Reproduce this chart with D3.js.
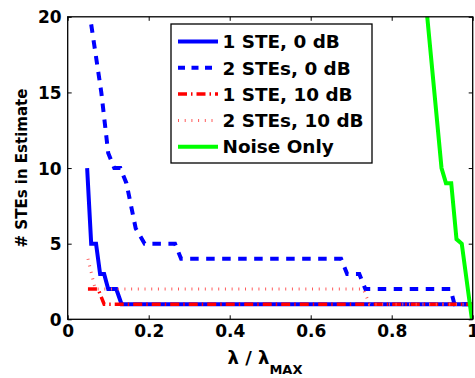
<!DOCTYPE html>
<html>
<head>
<meta charset="utf-8">
<script src="https://cdn.jsdelivr.net/npm/d3@7"></script>
<style>
  html, body { margin: 0; padding: 0; background: #fff; }
  svg { display: block; }
  text { font-family: "DejaVu Sans", Arial, sans-serif; font-weight: bold; }
</style>
</head>
<body>
<svg id="chart" width="475" height="378"></svg>
<script>
// Number of STEs kept in the estimate as the regularisation ratio λ/λmax grows
const xTicks = [0, 0.2, 0.4, 0.6, 0.8, 1];
const yTicks = [0, 5, 10, 15, 20];
const seriesLabels = ["1 STE, 0 dB", "2 STEs, 0 dB", "1 STE, 10 dB", "2 STEs, 10 dB", "Noise Only"];

const ste1_0dB_lambda = [0.048, 0.058, 0.070, 0.080, 0.090, 0.100, 0.120, 0.133, 0.996, 1.000];
const ste1_0dB_count  = [10, 5, 5, 3, 3, 2, 2, 1, 1, 0];

const ste2_0dB_lambda = [0.058, 0.083, 0.100, 0.115, 0.130, 0.145, 0.168, 0.190, 0.265, 0.280, 0.675, 0.690, 0.720, 0.735, 0.945, 0.955, 0.996, 1.000];
const ste2_0dB_count  = [19.5, 15, 11, 10, 10, 9, 6, 5, 5, 4, 4, 3, 3, 2, 2, 1, 1, 0];

const ste1_10dB_lambda = [0.050, 0.075, 0.090, 0.996, 1.000];
const ste1_10dB_count  = [2, 2, 1, 1, 0];

const ste2_10dB_lambda = [0.050, 0.068, 0.730, 0.745, 0.996, 1.000];
const ste2_10dB_count  = [4, 2, 2, 1, 1, 0];

const noise_lambda = [0.886, 0.923, 0.934, 0.947, 0.960, 0.973, 0.998];
const noise_count  = [20.5, 10, 9, 9, 5.3, 5, 0];

const svg = d3.select("#chart");
const plot = { left: 67.7, right: 472.7, top: 16.8, bottom: 319.3 };

const x = d3.scaleLinear().domain([0, 1]).range([plot.left, plot.right]);
const y = d3.scaleLinear().domain([0, 20]).range([plot.bottom, plot.top]);

svg.append("defs").append("clipPath").attr("id", "plotClip")
  .append("rect")
  .attr("x", plot.left).attr("y", plot.top)
  .attr("width", plot.right - plot.left).attr("height", plot.bottom - plot.top);

const styles = [
  { color: "#0000ff", width: 4,   dash: null },
  { color: "#0000ff", width: 4,   dash: "8.5,7.5" },
  { color: "#ff0000", width: 3.5, dash: "9,4,1.5,4" },
  { color: "#ff5a5a", width: 3,   dash: "1,5.7" },
  { color: "#00ff00", width: 4,   dash: null }
];

const series = [
  d3.zip(ste1_0dB_lambda, ste1_0dB_count),
  d3.zip(ste2_0dB_lambda, ste2_0dB_count),
  d3.zip(ste1_10dB_lambda, ste1_10dB_count),
  d3.zip(ste2_10dB_lambda, ste2_10dB_count),
  d3.zip(noise_lambda, noise_count)
];

const line = d3.line().x(d => x(d[0])).y(d => y(d[1]));

// axes with inward ticks on all four sides
const tickLen = 4;
const gx = svg.append("g").attr("transform", `translate(0,${plot.bottom})`)
  .call(d3.axisBottom(x).tickValues(xTicks).tickSizeInner(-tickLen).tickSizeOuter(0)
    .tickPadding(6).tickFormat(d => d === 0 || d === 1 ? d3.format("d")(d) : d3.format(".1f")(d)));
const gxTop = svg.append("g").attr("transform", `translate(0,${plot.top})`)
  .call(d3.axisTop(x).tickValues(xTicks).tickSizeInner(-tickLen).tickSizeOuter(0).tickFormat(""));
const gy = svg.append("g").attr("transform", `translate(${plot.left},0)`)
  .call(d3.axisLeft(y).tickValues(yTicks).tickSizeInner(-tickLen).tickSizeOuter(0).tickPadding(6));
const gyRight = svg.append("g").attr("transform", `translate(${plot.right},0)`)
  .call(d3.axisRight(y).tickValues(yTicks).tickSizeInner(-tickLen).tickSizeOuter(0).tickFormat(""));

[gx, gxTop, gy, gyRight].forEach(g => {
  g.select(".domain").remove();
  g.selectAll(".tick line").attr("stroke", "#000").attr("stroke-width", 1);
  g.selectAll(".tick text").attr("fill", "#000").attr("font-size", 17)
    .attr("font-family", "DejaVu Sans, Arial, sans-serif").attr("font-weight", "bold");
});
gy.selectAll(".tick text").attr("dy", "0.36em");

// series
const lines = svg.append("g").attr("clip-path", "url(#plotClip)");
series.forEach((pts, i) => {
  const s = styles[i];
  lines.append("path")
    .datum(pts)
    .attr("d", line)
    .attr("fill", "none")
    .attr("stroke", s.color)
    .attr("stroke-width", s.width)
    .attr("stroke-linejoin", "miter")
    .attr("stroke-dasharray", s.dash);
});

// axes box
svg.append("rect")
  .attr("x", plot.left).attr("y", plot.top)
  .attr("width", plot.right - plot.left).attr("height", plot.bottom - plot.top)
  .attr("fill", "none").attr("stroke", "#000").attr("stroke-width", 1.3);

// legend
const lg = { x: 171, y: 24, w: 201, h: 139, rowTop: 41.5, rowStep: 26.3 };
const legend = svg.append("g");
legend.append("rect")
  .attr("x", lg.x).attr("y", lg.y).attr("width", lg.w).attr("height", lg.h)
  .attr("fill", "#fff").attr("stroke", "#000").attr("stroke-width", 1.3);
seriesLabels.forEach((label, i) => {
  const cy = lg.rowTop + i * lg.rowStep;
  const s = styles[i];
  legend.append("line")
    .attr("x1", 178).attr("x2", 218).attr("y1", cy).attr("y2", cy)
    .attr("stroke", s.color).attr("stroke-width", s.width)
    .attr("stroke-dasharray", s.dash === "8.5,7.5" ? "7,6.5" : s.dash);
  legend.append("text")
    .attr("x", 222.5).attr("y", cy + 6.7)
    .attr("font-size", 18.4).attr("fill", "#000")
    .text(label);
});

// axis titles
const xTitle = svg.append("text")
  .attr("x", 265).attr("y", 364)
  .attr("text-anchor", "middle").attr("font-size", 18).attr("fill", "#000");
xTitle.append("tspan").text("λ / λ");
xTitle.append("tspan").attr("font-size", 13).attr("dy", 10).text("MAX");

svg.append("text")
  .attr("transform", "translate(27,168) rotate(-90)")
  .attr("text-anchor", "middle").attr("font-size", 15).attr("fill", "#000")
  .text("# STEs in Estimate");
</script>
</body>
</html>
